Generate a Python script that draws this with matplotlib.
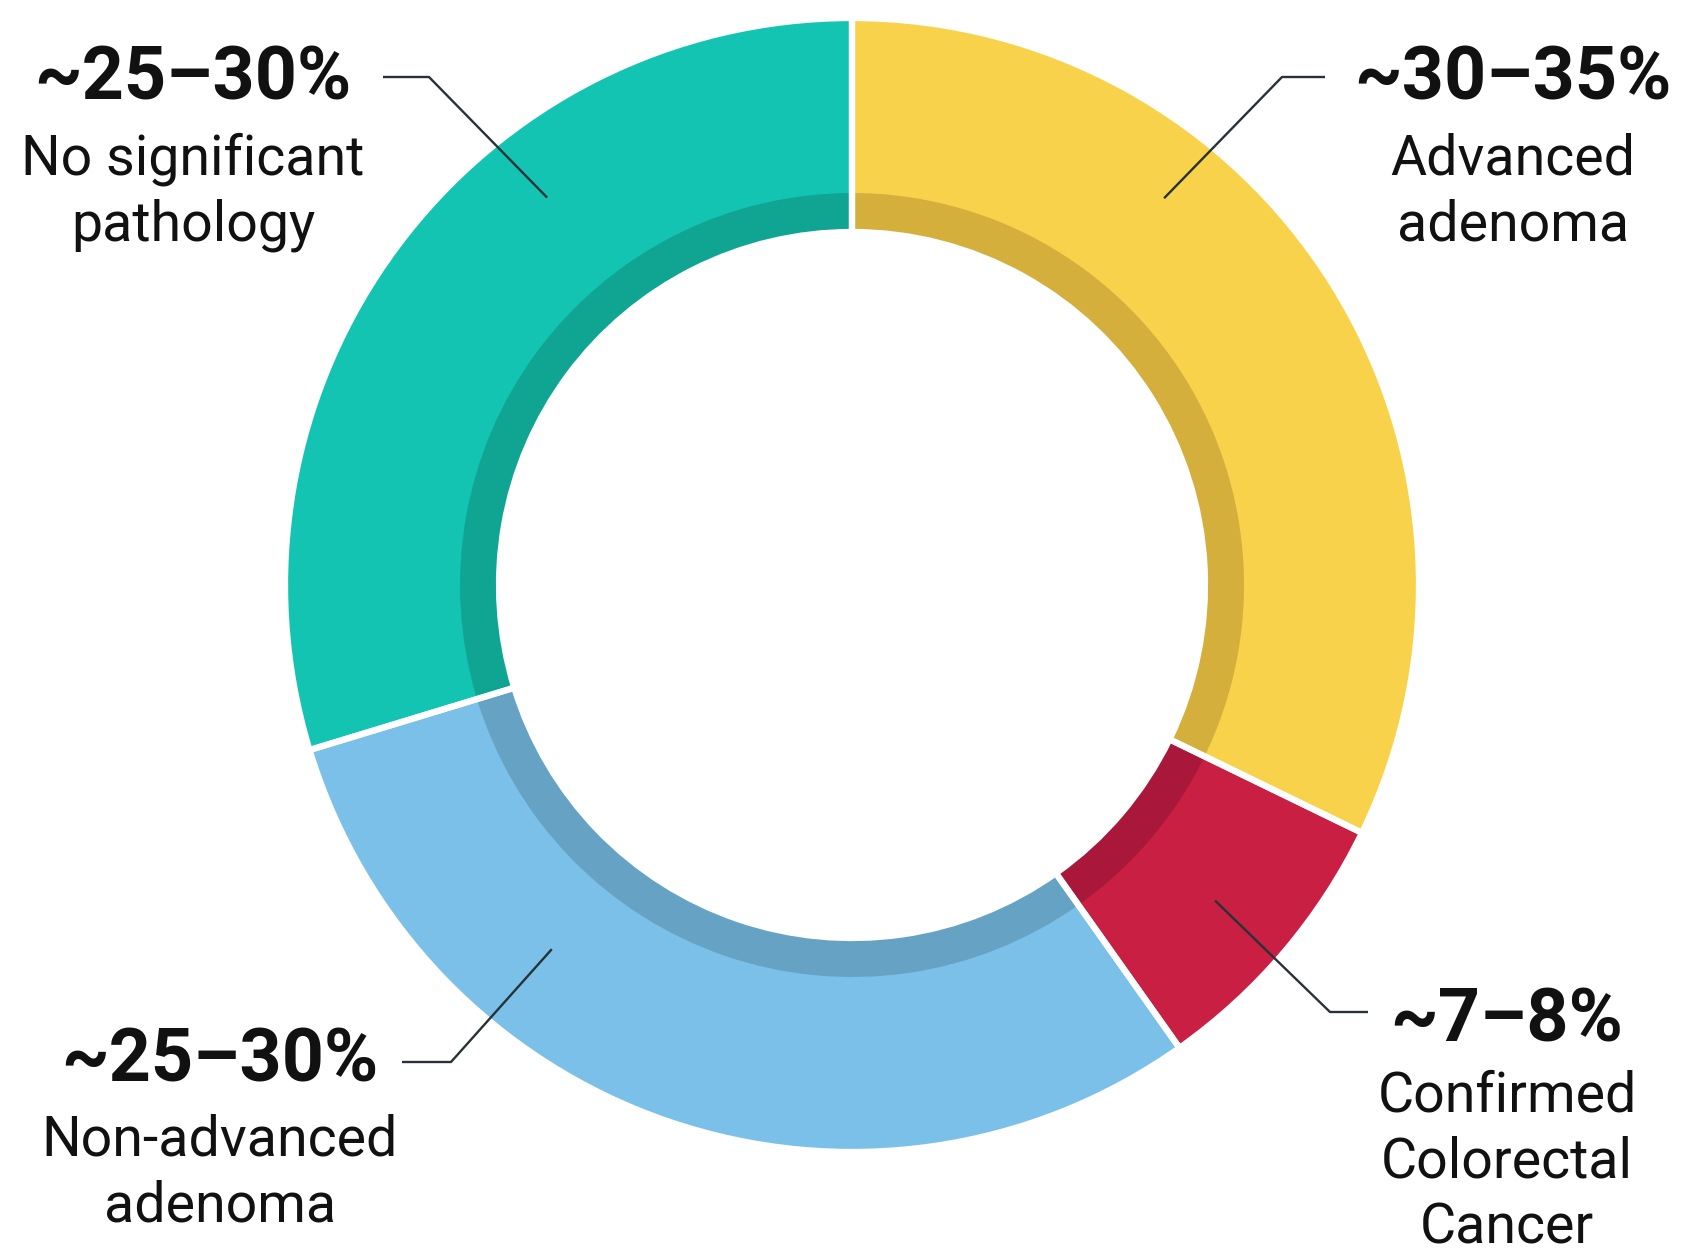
import numpy as np
import matplotlib
matplotlib.use('Agg')
import matplotlib.pyplot as plt

# slices clockwise from 12 o'clock (share of the ring)
names = ['Advanced\nadenoma', 'Confirmed\nColorectal\nCancer',
         'Non-advanced\nadenoma', 'No significant\npathology']
pct_labels = ['~30–35%', '~7–8%', '~25–30%', '~25–30%']
shares = [32.2, 8.0, 30.1, 29.7]

colors = ['#F9D24B', '#C91F43', '#7BC0E8', '#14C4B2']
dark = ['#D4AF3C', '#A9183A', '#66A2C4', '#10A593']

W, H = 1682, 1254
cx, cy = 852, 585          # ring centre, px from top
r_out, r_band, r_in = 565, 392, 355

fig = plt.figure(figsize=(W / 100, H / 100), dpi=100)
ax = fig.add_axes([0, 0, 1, 1])

ctr = (cx, H - cy)
ax.pie(shares, colors=colors, startangle=90, counterclock=False,
       radius=r_out, center=ctr, wedgeprops=dict(width=r_out - r_in, linewidth=0))
ax.pie(shares, colors=dark, startangle=90, counterclock=False,
       radius=r_band, center=ctr, wedgeprops=dict(width=r_band - r_in, linewidth=0))
# white gaps between slices
gaps, _ = ax.pie(shares, colors=['none'] * 4, startangle=90, counterclock=False,
                 radius=r_out + 2, center=ctr,
                 wedgeprops=dict(width=r_out - r_in + 4, edgecolor='white', linewidth=4.5))

# label layout: text centre x, y of bold line, y of first name line (px from top)
lab_x = [1513, 1507, 220, 193]
lab_y = [80, 1022, 1062, 80]
name_y = [159, 1096, 1140, 159]
step = 66
# leader: text end, elbow, anchor (angle deg, radius) inside slice
lead_start = [(1325, 77), (1368, 1012), (402, 1062), (383, 77)]
lead_elbow = [(1282, 77), (1330, 1012), (451, 1062), (429, 77)]
lead_anchor = [(51.1, 497), (-41.0, 481), (-129.5, 472), (128.2, 493)]

txt = dict(family=['Roboto', 'DejaVu Sans'], color='#111111',
           ha='center', va='center')

for i in range(4):
    ax.text(lab_x[i], H - lab_y[i], pct_labels[i], fontsize=53, fontweight='bold', **txt)
    for j, line in enumerate(names[i].split('\n')):
        ax.text(lab_x[i], H - (name_y[i] + j * step), line, fontsize=40, **txt)
    a, r = lead_anchor[i]
    ax_ = cx + r * np.cos(np.radians(a))
    ay_ = (H - cy) + r * np.sin(np.radians(a))
    xs = [lead_start[i][0], lead_elbow[i][0], ax_]
    ys = [H - lead_start[i][1], H - lead_elbow[i][1], ay_]
    ax.plot(xs, ys, color='#263238', lw=1.7, solid_capstyle='butt')

ax.set_xlim(0, W)
ax.set_ylim(0, H)
ax.set_aspect('equal')
ax.axis('off')

fig.savefig('out.png', dpi=100)
